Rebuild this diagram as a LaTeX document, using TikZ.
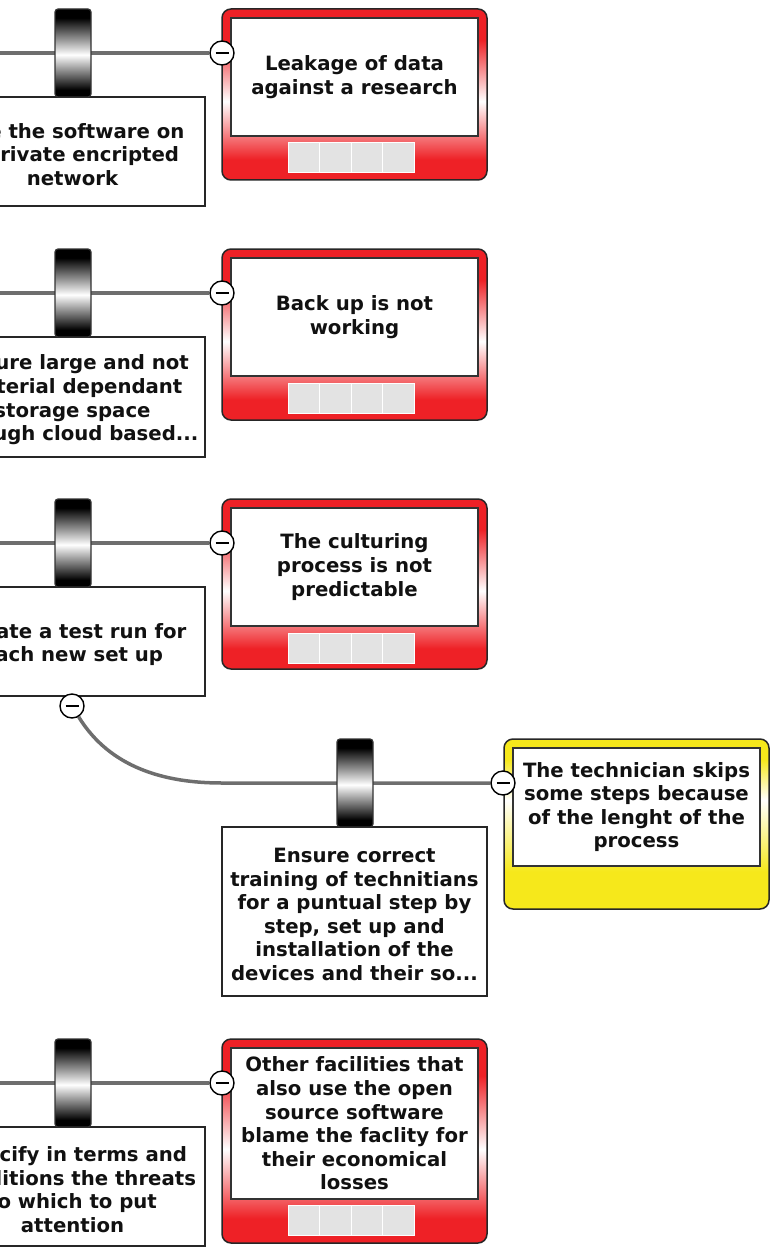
\documentclass[tikz,border=0pt]{standalone}
\usepackage{fontspec}
\setmainfont{DejaVu Sans}
\usetikzlibrary{backgrounds}

\definecolor{riskred}{HTML}{EE2126}
\definecolor{warnyellow}{HTML}{F6E81B}
\definecolor{cellgrey}{HTML}{E3E3E3}
\definecolor{linkgrey}{HTML}{6E6E6E}
\definecolor{inkblack}{HTML}{111111}

% vertical fades (bottom to top, path spans 25bp..75bp)
\pgfdeclareverticalshading{redfade}{100bp}{color(0bp)=(riskred); color(31bp)=(riskred); color(48bp)=(white); color(66bp)=(riskred); color(100bp)=(riskred)}
\pgfdeclareverticalshading{yellowfade}{100bp}{color(0bp)=(warnyellow); color(36bp)=(warnyellow); color(57bp)=(white); color(69bp)=(warnyellow); color(100bp)=(warnyellow)}
\pgfdeclareverticalshading{barrelfade}{100bp}{color(0bp)=(black); color(29bp)=(black); color(49bp)=(white); color(70bp)=(black); color(100bp)=(black)}

\newcommand{\labelfont}{\fontsize{19.7}{23.6}\selectfont\bfseries\color{inkblack}}

\tikzset{
  riskbox/.style={rounded corners=9pt, draw=black!85, line width=1.5pt, shading=redfade,
    minimum width=265pt, inner sep=0pt},
  warnbox/.style={rounded corners=9pt, draw=black!85, line width=1.5pt, shading=yellowfade,
    minimum width=265pt, inner sep=0pt},
  innerbox/.style={draw=black!80, line width=1.5pt, fill=white, minimum width=247pt,
    align=center, font=\labelfont, inner sep=0pt},
  gridcell/.style={fill=cellgrey, draw=white, line width=1pt, minimum width=31.5pt,
    minimum height=30pt, inner sep=0pt},
  barrel/.style={rounded corners=3pt, draw=black!80, line width=1.2pt, shading=barrelfade,
    minimum width=36pt, minimum height=88pt, inner sep=0pt},
  mitbox/.style={draw=black!85, line width=1.5pt, fill=white, minimum width=265pt, inner sep=0pt},
  mittext/.style={align=center, font=\labelfont, inner sep=0pt, yshift=-3pt},
  minus/.style={circle, draw=black, line width=1.4pt, fill=white, minimum size=24pt,
    inner sep=0pt, path picture={\draw[line width=2.6pt, black]
      ([xshift=-6.5pt]path picture bounding box.center) -- ([xshift=6.5pt]path picture bounding box.center);}},
  link/.style={draw=linkgrey, line width=3.5pt}
}

\begin{document}
\begin{tikzpicture}[x=1pt, y=-1pt]
\useasboundingbox (0,0) rectangle (771,1252);

% ---- row 1 ----
\node[riskbox, minimum height=171pt] (r1) at (354.5,94.5) {};
\node[innerbox, minimum height=118pt] (r1t) at (354.5,77) {Leakage of data\\against a research};
\node[gridcell] (r1a) at (303.75,158) {};
\node[gridcell] (r1b) at (335.25,158) {};
\node[gridcell] (r1c) at (366.75,158) {};
\node[gridcell] (r1d) at (398.25,158) {};
\node[mitbox, minimum height=109pt] (m1) at (72.5,151.5) {};
\node[mittext] (m1t) at (m1.center) {Use the software on\\a private encripted\\network};
\node[barrel] (b1) at (73,53) {};
\node[minus] (c1) at (222,53) {};
\coordinate (e1) at (-20,53);

% ---- row 2 ----
\node[riskbox, minimum height=171pt] (r2) at (354.5,334.5) {};
\node[innerbox, minimum height=118pt] (r2t) at (354.5,317) {Back up is not\\working};
\node[gridcell] (r2a) at (303.75,398) {};
\node[gridcell] (r2b) at (335.25,398) {};
\node[gridcell] (r2c) at (366.75,398) {};
\node[gridcell] (r2d) at (398.25,398) {};
\node[mitbox, minimum height=120pt] (m2) at (72.5,397) {};
\node[mittext] (m2t) at (m2.center) {Ensure large and not\\material dependant\\storage space\\through cloud based...};
\node[barrel] (b2) at (73,293) {};
\node[minus] (c2) at (222,293) {};
\coordinate (e2) at (-20,293);

% ---- row 3 ----
\node[riskbox, minimum height=170pt] (r3) at (354.5,584) {};
\node[innerbox, minimum height=118pt] (r3t) at (354.5,567) {The culturing\\process is not\\predictable};
\node[gridcell] (r3a) at (303.75,648) {};
\node[gridcell] (r3b) at (335.25,648) {};
\node[gridcell] (r3c) at (366.75,648) {};
\node[gridcell] (r3d) at (398.25,648) {};
\node[mitbox, minimum height=109pt] (m3) at (72.5,641.5) {};
\node[mittext] (m3t) at (m3.center) {Create a test run for\\each new set up};
\node[barrel] (b3) at (73,543) {};
\node[minus] (c3) at (222,543) {};
\coordinate (e3) at (-20,543);
\node[minus] (c3b) at (72,706) {};

% ---- row 4 ----
\node[warnbox, minimum height=170pt] (r4) at (636.5,824) {};
\node[innerbox, minimum height=118pt] (r4t) at (636.5,807) {The technician skips\\some steps because\\of the lenght of the\\process};
\node[mitbox, minimum height=169pt] (m4) at (354.5,911.5) {};
\node[mittext] (m4t) at (m4.center) {Ensure correct\\training of technitians\\for a puntual step by\\step, set up and\\installation of the\\devices and their so...};
\node[barrel] (b4) at (355,783) {};
\node[minus] (c4) at (503,783) {};
\coordinate (k4) at (222,783);

% ---- row 5 ----
\node[riskbox, minimum height=204pt] (r5) at (354.5,1141) {};
\node[innerbox, minimum height=151pt] (r5t) at (354.5,1123.5) {Other facilities that\\also use the open\\source software\\blame the faclity for\\their economical\\losses};
\node[gridcell] (r5a) at (303.75,1220.5) {};
\node[gridcell] (r5b) at (335.25,1220.5) {};
\node[gridcell] (r5c) at (366.75,1220.5) {};
\node[gridcell] (r5d) at (398.25,1220.5) {};
\node[mitbox, minimum height=119pt] (m5) at (72.5,1186.5) {};
\node[mittext] (m5t) at (m5.center) {Specify in terms and\\conditions the threats\\to which to put\\attention};
\node[barrel] (b5) at (73,1083) {};
\node[minus] (c5) at (222,1083) {};
\coordinate (e5) at (-20,1083);

% ---- connectors ----
\begin{scope}[on background layer]
  \draw[link] (e1) -- (c1);
  \draw[link] (e2) -- (c2);
  \draw[link] (e3) -- (c3);
  \draw[link] (c3b) .. controls (110,768) and (165,783) .. (k4) -- (c4);
  \draw[link] (e5) -- (c5);
\end{scope}
\end{tikzpicture}
\end{document}
